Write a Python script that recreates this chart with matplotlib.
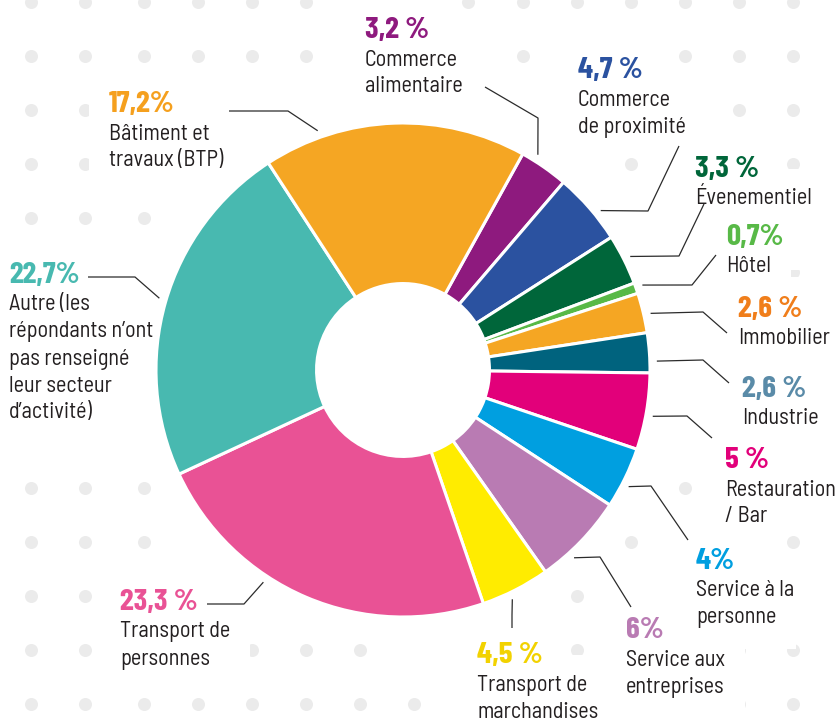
import numpy as np
import matplotlib.pyplot as plt

# secteurs, dans le sens horaire depuis le haut
sectors = ["Commerce\nalimentaire", "Commerce\nde proximité", "Évenementiel", "Hôtel",
           "Immobilier", "Industrie", "Restauration\n/ Bar", "Service à la\npersonne",
           "Service aux\nentreprises", "Transport de\nmarchandises", "Transport de\npersonnes",
           "Autre (les\nrépondants n’ont\npas renseigné\nleur secteur\nd’activité)",
           "Bâtiment et\ntravaux (BTP)"]
shares = [3.2, 4.7, 3.3, 0.7, 2.6, 2.6, 5, 4, 6, 4.5, 23.3, 22.7, 17.2]
share_labels = ["3,2 %", "4,7 %", "3,3 %", "0,7%", "2,6 %", "2,6 %", "5 %", "4%",
                "6%", "4,5 %", "23,3 %", "22,7%", "17,2%"]

wedge_colors = ["#8e1a7e", "#2b52a0", "#00663a", "#58b947", "#f5a623", "#00637e",
                "#e2007a", "#009fe0", "#b97bb3", "#ffec00", "#e95295", "#48b9b0", "#f5a623"]
label_colors = ["#8e1a7e", "#2b52a0", "#00663a", "#58b947", "#f07e1b", "#5a8ba8",
                "#e2007a", "#009fe0", "#b97bb3", "#f2d200", "#e95295", "#48b9b0", "#f5a01e"]

# mise en page (pixels, origine en haut à gauche)
W, H = 838, 721
CX, CY, R = 403, 370, 247
label_xy = [(365, 38), (578, 78), (695, 177), (726, 245), (738, 317), (742, 397),
            (725, 468), (696, 569), (626, 638), (477, 663), (120, 610), (9, 283), (109, 112)]
leader_offset = [2.7, -2.1, 0, 0.2, -0.5, -2, -0.8, -1.4, -3.7, -1.6, -10.3, -0.4, 17.6]
leader_pts = [[(538, 118), (485, 87)], [(648, 211), (679, 146)], [(679, 256), (704, 204)],
              [(692, 285), (716, 255)], [(703, 312), (727, 333)], [(703, 360), (729, 383)],
              [(687, 416), (712, 438)], [(651, 486), (688, 540)], [(600, 557), (631, 607)],
              [(512, 615), (512, 628)], [(244, 604), (207, 604)], [(135, 277), (88, 277)],
              [(288, 111), (229, 111)]]
dot_cols = [31, 85, 144, 198, 252, 306, 360, 414, 468, 523, 577, 631, 685, 739, 793]
dot_rows = [2 + 54 * k for k in range(14)]

PCT_FONT = dict(family=['Barlow Condensed', 'DejaVu Sans'], fontstretch='condensed',
                fontweight='bold', fontsize=22.5)
NAME_FONT = dict(family=['Barlow Semi Condensed', 'DejaVu Sans'], fontstretch='condensed',
                 fontsize=16)


def py(y):
    return H - y


fig = plt.figure(figsize=(W / 100, H / 100), dpi=100)
ax = fig.add_axes([0, 0, 1, 1])

wedges, _ = ax.pie(shares, colors=wedge_colors, startangle=61, counterclock=False,
                   center=(CX, py(CY)), radius=R,
                   wedgeprops=dict(width=R * 0.65, edgecolor='white', linewidth=2.2))
for w in wedges:
    w.set_zorder(2)

# lignes de rappel
segments = []
for w, off, pts in zip(wedges, leader_offset, leader_pts):
    a = np.deg2rad((w.theta1 + w.theta2) / 2 + off)
    x0 = CX + (R + 7) * np.cos(a)
    y0 = CY - (R + 7) * np.sin(a)
    xs = [x0] + [p[0] for p in pts]
    ys = [y0] + [p[1] for p in pts]
    ax.plot(xs, [py(v) for v in ys], color='#2b2b2b', lw=0.9, zorder=3,
            solid_capstyle='butt')
    segments += list(zip(zip(xs[:-1], ys[:-1]), zip(xs[1:], ys[1:])))


def seg_dist(p, a, b):
    p, a, b = np.array(p), np.array(a), np.array(b)
    ab = b - a
    t = np.clip(np.dot(p - a, ab) / max(np.dot(ab, ab), 1e-9), 0, 1)
    return np.hypot(*(p - (a + t * ab)))


# fond de points gris (masqués autour de l'anneau et des lignes)
dx, dy = [], []
for yy in dot_rows:
    for xx in dot_cols:
        if np.hypot(xx - CX, yy - CY) < R + 34:
            continue
        if any(seg_dist((xx, yy), a, b) < 22 for a, b in segments):
            continue
        dx.append(xx)
        dy.append(py(yy))
ax.scatter(dx, dy, s=88, color='#ebebeb', linewidths=0, zorder=0)


def put(x, y, s, color, font, pad):
    ax.text(x, py(y), s, color='white', va='baseline', ha='left', zorder=1.5,
            bbox=dict(boxstyle='square,pad=%.2f' % pad, fc='white', ec='none'), **font)
    ax.text(x, py(y), s, color=color, va='baseline', ha='left', zorder=4, **font)


for (x, y), pct, name, col in zip(label_xy, share_labels, sectors, label_colors):
    put(x, y, pct, col, PCT_FONT, 0.62)
    for i, line in enumerate(name.split("\n")):
        put(x, y + 27.5 + 27 * i, line, '#231f20', NAME_FONT, 0.9)

ax.set_xlim(0, W)
ax.set_ylim(0, H)
ax.axis('off')
fig.savefig('out.png', dpi=100, facecolor='white')
